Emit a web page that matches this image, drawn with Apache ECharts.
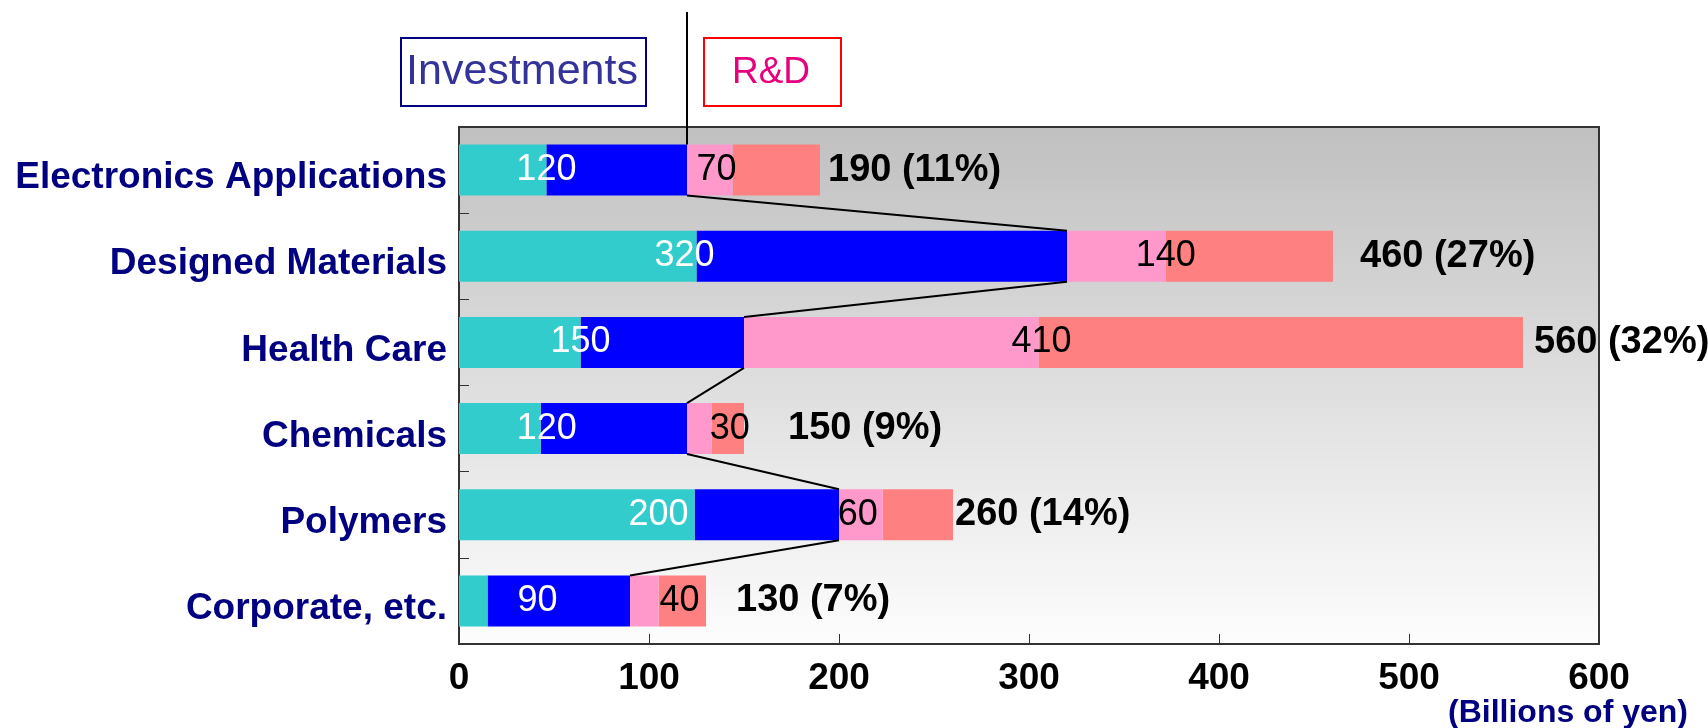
<!DOCTYPE html>
<html>
<head>
<meta charset="utf-8">
<script src="https://cdn.jsdelivr.net/npm/echarts@6/dist/echarts.min.js"></script>
<style>
  html, body { margin: 0; padding: 0; background: #ffffff; }
  #chart { width: 1708px; height: 728px; }
</style>
</head>
<body>
<div id="chart"></div>
<script>
// Business segments, top to bottom
const categories = ['Electronics Applications', 'Designed Materials', 'Health Care', 'Chemicals', 'Polymers', 'Corporate, etc.'];

// Investments, split into two shades (billions of yen)
const investLight = [46, 125, 64, 43, 124, 15];
const investDark  = [74, 195, 86, 77, 76, 75];

// R&D, split into two shades (billions of yen)
const rdLight = [24, 52, 155, 13, 23, 15];
const rdDark  = [46, 88, 255, 17, 37, 25];

// Share of the grand total, in percent
const sharePct = [11, 27, 32, 9, 14, 7];

// Horizontal nudges (px) for the in-bar and end-of-bar labels
const investLabelShift = [0, -12, 0, 6, -36, 50];
const rdLabelShift     = [-16, 0, 3, 18, -25, 21];
const totalLabelGap    = [8, 27, 11, 44, 2, 30];

const FONT = "'Liberation Sans', Arial, Helvetica, sans-serif";
const BAR_PX = 51;

const investTotal = investLight.map((v, i) => v + investDark[i]);
const rdTotal = rdLight.map((v, i) => v + rdDark[i]);
const grandTotal = investTotal.map((v, i) => v + rdTotal[i]);

const chart = echarts.init(document.getElementById('chart'), null, { renderer: 'canvas' });

const inBarLabel = (color) => ({
  show: true,
  position: 'right',
  distance: 0,
  align: 'center',
  verticalAlign: 'middle',
  color: color,
  fontSize: 36,
  fontFamily: FONT
});

chart.setOption({
  animation: false,
  backgroundColor: '#ffffff',
  grid: {
    left: 459, right: 109, top: 127, bottom: 84,
    show: true,
    borderColor: '#333333',
    borderWidth: 2,
    backgroundColor: {
      type: 'linear', x: 0, y: 0, x2: 0, y2: 1,
      colorStops: [
        { offset: 0, color: '#c0c0c0' },
        { offset: 1, color: '#fdfdfd' }
      ]
    }
  },
  xAxis: {
    type: 'value',
    min: 0, max: 600, interval: 100,
    axisLine: { show: true, lineStyle: { color: '#333333', width: 2 } },
    axisTick: { show: true, inside: true, length: 10, lineStyle: { color: '#333333', width: 1 } },
    splitLine: { show: false },
    axisLabel: { color: '#000000', fontSize: 37, fontWeight: 'bold', fontFamily: FONT, margin: 16 }
  },
  yAxis: {
    type: 'category',
    inverse: true,
    data: categories,
    axisLine: { show: true, lineStyle: { color: '#333333', width: 2 } },
    axisTick: { show: true, inside: true, length: 10, lineStyle: { color: '#333333', width: 1 } },
    axisLabel: {
      margin: 12,
      formatter: (value) => '{cat|' + value + '}',
      rich: {
        cat: {
          color: '#000080', fontSize: 37, fontWeight: 'bold', fontFamily: FONT,
          padding: [16, 0, 0, 0]
        }
      }
    }
  },
  series: [
    {
      name: 'Investments (light)', type: 'bar', stack: 'seg', barWidth: BAR_PX, z: 4,
      itemStyle: { color: '#33CCCC' },
      data: investLight.map((v, i) => ({
        value: v,
        label: Object.assign(inBarLabel('#ffffff'), {
          offset: [investLabelShift[i], 0],
          formatter: String(investTotal[i])
        })
      }))
    },
    {
      name: 'Investments (dark)', type: 'bar', stack: 'seg', barWidth: BAR_PX, z: 2,
      itemStyle: { color: '#0000FF' },
      data: investDark
    },
    {
      name: 'R&D (light)', type: 'bar', stack: 'seg', barWidth: BAR_PX, z: 4,
      itemStyle: { color: '#FF99CC' },
      data: rdLight.map((v, i) => ({
        value: v,
        label: Object.assign(inBarLabel('#000000'), {
          offset: [rdLabelShift[i], 0],
          formatter: String(rdTotal[i])
        })
      }))
    },
    {
      name: 'R&D (dark)', type: 'bar', stack: 'seg', barWidth: BAR_PX, z: 2,
      itemStyle: { color: '#FF8080' },
      data: rdDark.map((v, i) => ({
        value: v,
        label: {
          show: true,
          position: 'right',
          distance: 0,
          align: 'left',
          verticalAlign: 'middle',
          offset: [totalLabelGap[i], 0],
          color: '#000000',
          fontSize: 38,
          fontWeight: 'bold',
          fontFamily: FONT,
          formatter: grandTotal[i] + ' (' + sharePct[i] + '%)'
        }
      }))
    },
    {
      // Thin connectors joining the end of each investment bar to the next
      name: 'connectors', type: 'custom', z: 6, silent: true,
      data: investTotal.map((v, i) => [v, i]),
      renderItem: function (params, api) {
        const i = params.dataIndex;
        const half = BAR_PX / 2;
        const p = api.coord([investTotal[i], i]);
        const children = [];
        const lineStyle = { stroke: '#000000', lineWidth: 2 };
        if (i === 0) {
          children.push({ type: 'line', shape: { x1: p[0], y1: p[1] - half, x2: p[0], y2: 12 }, style: lineStyle });
        }
        if (i < investTotal.length - 1) {
          const q = api.coord([investTotal[i + 1], i + 1]);
          children.push({ type: 'line', shape: { x1: p[0], y1: p[1] + half, x2: q[0], y2: q[1] - half }, style: lineStyle });
        }
        return { type: 'group', children: children };
      }
    }
  ],
  graphic: [
    {
      type: 'rect', left: 400, top: 37, silent: true,
      shape: { width: 245, height: 68 },
      style: { fill: '#ffffff', stroke: '#000080', lineWidth: 2 }
    },
    {
      type: 'text', x: 522, y: 72, silent: true,
      style: { text: 'Investments', fill: '#333399', fontSize: 43, fontFamily: FONT, align: 'center', verticalAlign: 'middle' }
    },
    {
      type: 'rect', left: 703, top: 37, silent: true,
      shape: { width: 137, height: 68 },
      style: { fill: '#ffffff', stroke: '#FF0000', lineWidth: 2 }
    },
    {
      type: 'text', x: 771, y: 73, silent: true,
      style: { text: 'R&D', fill: '#E6007E', fontSize: 37, fontFamily: FONT, align: 'center', verticalAlign: 'middle' }
    },
    {
      type: 'text', right: 20, top: 697, silent: true,
      style: { text: '(Billions of yen)', fill: '#000080', fontSize: 32, fontWeight: 'bold', fontFamily: FONT }
    }
  ]
});
</script>
</body>
</html>
